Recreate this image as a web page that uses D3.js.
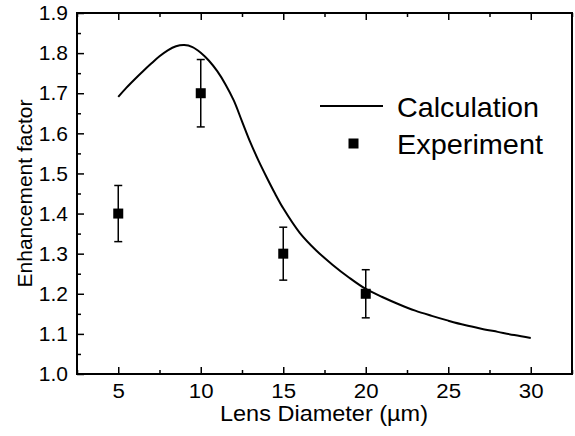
<!DOCTYPE html>
<html><head><meta charset="utf-8">
<script src="https://cdn.jsdelivr.net/npm/d3@7"></script>
<style>body{margin:0;background:#fff}svg{display:block}text{font-family:"Liberation Sans",Arial,sans-serif;fill:#000}</style>
</head><body><svg id="c" width="575" height="436"></svg>
<script>
const calcX = [5,5.5,6,6.5,7,7.5,8,8.5,9,9.5,10,10.5,11,11.5,12,12.5,13,13.5,14,14.5,15,16,17,18,19,20,21,22,23,24,25,26,27,28,29,30];
const calcY = [1.691,1.714,1.735,1.755,1.774,1.792,1.807,1.817,1.820,1.815,1.801,1.781,1.755,1.722,1.682,1.630,1.578,1.532,1.490,1.450,1.413,1.352,1.308,1.272,1.240,1.212,1.192,1.174,1.158,1.145,1.133,1.122,1.113,1.105,1.097,1.090];
const expX = [5,10,15,20];
const expY = [1.40,1.70,1.30,1.20];
const expErr = [0.07,0.084,0.066,0.06];
const xTicks = [5,10,15,20,25,30];
const yTicks = [1.0,1.1,1.2,1.3,1.4,1.5,1.6,1.7,1.8,1.9];
const legendLabels = ["Calculation","Experiment"];
const xTitle = "Lens Diameter (µm)";
const yTitle = "Enhancement factor";

const svg = d3.select("#c");
const L=77,R=572,T=13,B=374;
const x = d3.scaleLinear().domain([2.5,32.5]).range([L,R]);
const y = d3.scaleLinear().domain([1.0,1.9]).range([B,T]);

const xMinor = d3.range(2.5,32.6,2.5).filter(v=>xTicks.indexOf(v)<0);
const yMinor = d3.range(1.05,1.9,0.1);

// bottom axis
const gb = svg.append("g").attr("transform",`translate(0,${B})`)
  .call(d3.axisBottom(x).tickValues(xTicks).tickSizeInner(-7).tickSizeOuter(0).tickPadding(9).tickFormat(d3.format("d")));
gb.selectAll("text").style("font-size","21px").attr("transform","scale(1.06,1)");
svg.append("g").attr("transform",`translate(0,${B})`)
  .call(d3.axisBottom(x).tickValues(xMinor).tickSizeInner(-4).tickSizeOuter(0).tickFormat(""));
// top axis
svg.append("g").attr("transform",`translate(0,${T})`)
  .call(d3.axisTop(x).tickValues(xTicks).tickSizeInner(-7).tickSizeOuter(0).tickFormat(""));
svg.append("g").attr("transform",`translate(0,${T})`)
  .call(d3.axisTop(x).tickValues(xMinor).tickSizeInner(-4).tickSizeOuter(0).tickFormat(""));
// left axis
const gl = svg.append("g").attr("transform",`translate(${L},0)`)
  .call(d3.axisLeft(y).tickValues(yTicks).tickSizeInner(-7).tickSizeOuter(0).tickPadding(9).tickFormat(d3.format(".1f")));
gl.selectAll("text").style("font-size","21px");
svg.append("g").attr("transform",`translate(${L},0)`)
  .call(d3.axisLeft(y).tickValues(yMinor).tickSizeInner(-4).tickSizeOuter(0).tickFormat(""));
svg.selectAll(".domain").remove();
svg.selectAll(".tick line").attr("stroke","#000").attr("stroke-width",1.5);

// frame
svg.append("rect").attr("x",L).attr("y",T).attr("width",R-L).attr("height",B-T)
  .attr("fill","none").attr("stroke","#000").attr("stroke-width",2);

// curve
const pts = calcX.map((v,i)=>[v,calcY[i]]);
svg.append("path").datum(pts)
  .attr("d",d3.line().x(d=>x(d[0])).y(d=>y(d[1])).curve(d3.curveCatmullRom))
  .attr("fill","none").attr("stroke","#000").attr("stroke-width",2);

// error bars + points
const eg = svg.append("g");
expX.forEach((v,i)=>{
  const cx=x(v), lo=y(expY[i]-expErr[i]), hi=y(expY[i]+expErr[i]);
  eg.append("line").attr("x1",cx).attr("x2",cx).attr("y1",lo).attr("y2",hi).attr("stroke","#000").attr("stroke-width",1.5);
  [lo,hi].forEach(yy=>eg.append("line").attr("x1",cx-4).attr("x2",cx+4).attr("y1",yy).attr("y2",yy).attr("stroke","#000").attr("stroke-width",1.5));
  eg.append("rect").attr("x",cx-5).attr("y",y(expY[i])-5).attr("width",10).attr("height",10).attr("fill","#000");
});

// legend
svg.append("line").attr("x1",320).attr("x2",383).attr("y1",106).attr("y2",106).attr("stroke","#000").attr("stroke-width",2);
svg.append("text").attr("x",397).attr("y",116.5).style("font-size","28px").attr("textLength",142).attr("lengthAdjust","spacingAndGlyphs").text(legendLabels[0]);
svg.append("rect").attr("x",348.5).attr("y",138.5).attr("width",10).attr("height",10).attr("fill","#000");
svg.append("text").attr("x",397).attr("y",154).style("font-size","28px").attr("textLength",146).attr("lengthAdjust","spacingAndGlyphs").text(legendLabels[1]);

// titles
svg.append("text").attr("x",220).attr("y",421).style("font-size","22px").attr("textLength",208).attr("lengthAdjust","spacingAndGlyphs").text(xTitle);
svg.append("text").attr("transform",`translate(32,${(T+B)/2}) rotate(-90)`).attr("text-anchor","middle").style("font-size","21px").text(yTitle);
</script></body></html>
